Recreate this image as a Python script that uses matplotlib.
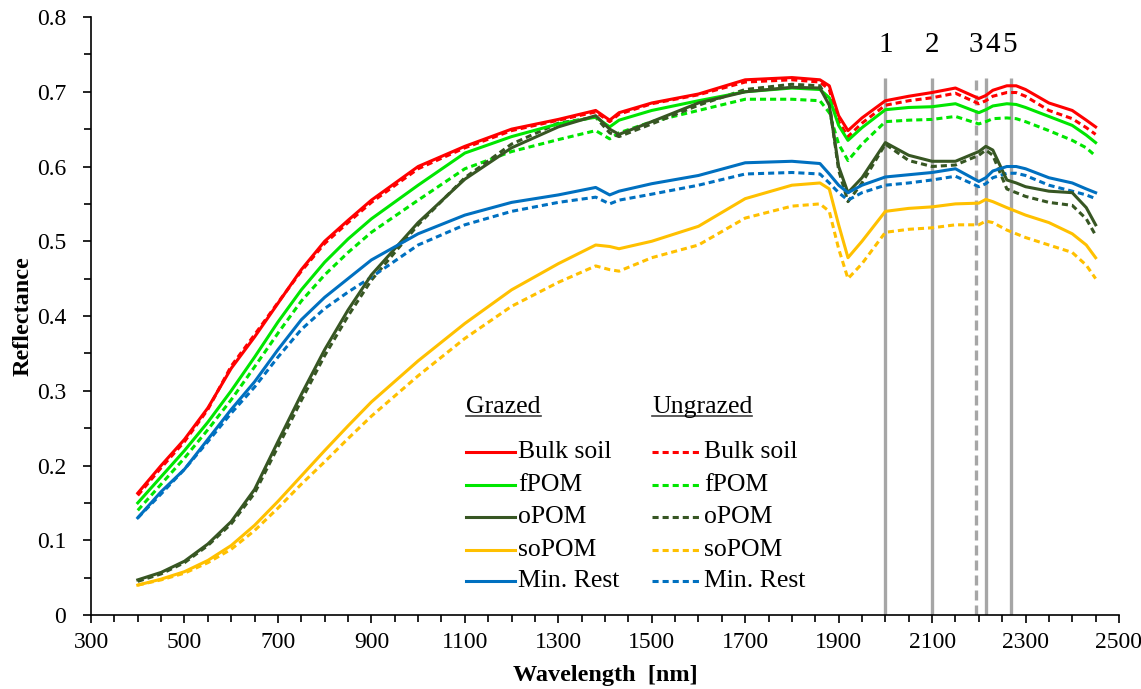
import matplotlib
matplotlib.use("Agg")
import matplotlib.pyplot as plt
from matplotlib.ticker import MultipleLocator

plt.rcParams['font.family'] = ['Liberation Serif', 'DejaVu Serif']

# wavelength grid (nm) shared by all spectra
wavelength = [400, 450, 500, 550, 600, 650, 700, 750, 800, 850, 900, 1000, 1100, 1200,
              1300, 1380, 1410, 1430, 1500, 1600, 1700, 1800, 1860, 1880, 1900, 1920,
              1950, 2000, 2050, 2100, 2150, 2200, 2215, 2230, 2260, 2280, 2300, 2350,
              2400, 2430, 2450]

bulk_grazed = [.163, .200, .235, .277, .330, .372, .417, .462, .500, .528, .555, .600, .627, .650,
               .663, .675, .662, .672, .685, .697, .716, .719, .716, .708, .668, .648,
               .665, .688, .694, .699, .705, .691, .695, .702, .708, .708, .703, .685,
               .675, .662, .653]
bulk_ungrazed = [.160, .197, .232, .275, .333, .375, .418, .460, .497, .525, .552, .597, .625, .648,
                 .662, .673, .660, .670, .684, .696, .713, .716, .713, .703, .660, .640,
                 .658, .682, .688, .692, .698, .684, .688, .694, .699, .699, .694, .675,
                 .664, .652, .643]
fpom_grazed = [.150, .185, .220, .258, .300, .345, .392, .435, .472, .503, .530, .575, .618, .640,
               .657, .666, .653, .662, .675, .688, .700, .705, .703, .692, .655, .635,
               .652, .676, .679, .680, .684, .672, .676, .681, .684, .683, .679, .667,
               .655, .642, .632]
fpom_ungrazed = [.140, .175, .210, .248, .288, .332, .377, .420, .455, .485, .512, .555, .597, .620,
                 .636, .648, .637, .645, .660, .675, .690, .690, .688, .672, .630, .608,
                 .630, .660, .662, .663, .667, .657, .660, .664, .665, .664, .660, .648,
                 .635, .625, .614]
opom_grazed = [.047, .057, .072, .095, .125, .168, .232, .295, .355, .408, .455, .525, .583, .625,
               .653, .668, .650, .643, .660, .685, .700, .706, .705, .682, .600, .565,
               .585, .632, .615, .607, .607, .620, .627, .622, .582, .578, .573, .567,
               .565, .545, .522]
opom_ungrazed = [.045, .055, .070, .093, .122, .163, .225, .287, .347, .400, .448, .522, .585, .630,
                 .658, .666, .645, .640, .657, .682, .703, .710, .708, .685, .595, .553,
                 .578, .630, .608, .600, .602, .615, .622, .615, .570, .565, .560, .552,
                 .548, .530, .508]
sopom_grazed = [.040, .048, .058, .073, .093, .120, .152, .186, .220, .253, .285, .340, .390, .435,
                .470, .495, .493, .490, .500, .520, .557, .575, .578, .570, .522, .478,
                .500, .540, .544, .546, .550, .551, .556, .553, .545, .540, .535, .525,
                .510, .495, .478]
sopom_ungrazed = [.040, .047, .056, .070, .088, .113, .143, .175, .205, .236, .266, .320, .370, .413,
                  .445, .467, .462, .460, .478, .495, .531, .547, .550, .540, .490, .450,
                  .470, .512, .516, .518, .522, .522, .527, .525, .515, .510, .505, .495,
                  .485, .468, .450]
minrest_grazed = [.130, .165, .195, .235, .275, .312, .355, .395, .425, .450, .475, .510, .535, .552,
                  .562, .572, .562, .567, .577, .588, .605, .607, .604, .590, .575, .565,
                  .575, .586, .589, .592, .597, .580, .585, .594, .600, .600, .597, .585,
                  .578, .570, .565]
minrest_ungrazed = [.130, .162, .195, .232, .270, .305, .345, .382, .410, .432, .452, .495, .522, .540,
                    .552, .559, .550, .555, .563, .575, .590, .592, .590, .578, .565, .555,
                    .565, .575, .578, .582, .587, .573, .577, .585, .591, .591, .588, .575,
                    .567, .562, .557]

fractions = ['Bulk soil', 'fPOM', 'oPOM', 'soPOM', 'Min. Rest']
colors = ['#FF0000', '#00E600', '#375623', '#FFC000', '#0070C0']
grazed = [bulk_grazed, fpom_grazed, opom_grazed, sopom_grazed, minrest_grazed]
ungrazed = [bulk_ungrazed, fpom_ungrazed, opom_ungrazed, sopom_ungrazed, minrest_ungrazed]

# absorption band markers
band_wl = [2000, 2100, 2195, 2215, 2268]
band_dashed = [False, False, True, False, False]
band_labels = ['1', '2', '3', '4', '5']
band_label_x = [2000, 2100, 2194, 2230, 2265]

x_ticks = list(range(300, 2501, 200))
y_ticks = [0, 0.1, 0.2, 0.3, 0.4, 0.5, 0.6, 0.7, 0.8]
y_tick_labels = ['0', '0.1', '0.2', '0.3', '0.4', '0.5', '0.6', '0.7', '0.8']

DASH = (0, (2, 1.3))


def main():
    fig = plt.figure(figsize=(11.41, 6.89), dpi=100)
    ax = fig.add_axes([0.0798, 0.1074, 0.9009, 0.8679])

    for w, dashed in zip(band_wl, band_dashed):
        ax.vlines(w, 0, 0.718, colors='#A6A6A6', linewidth=2.4,
                  linestyles=(0, (3, 1.5)) if dashed else '-', zorder=1)
    for lab, x in zip(band_labels, band_label_x):
        ax.text(x, 0.762, lab, fontsize=21, ha='center', va='center')

    for name, col, g, u in zip(fractions, colors, grazed, ungrazed):
        ax.plot(wavelength, g, color=col, linewidth=2.2, zorder=3)
        ax.plot(wavelength, u, color=col, linewidth=2.2, linestyle=DASH, zorder=2)

    ax.set_xlim(300, 2500)
    ax.set_ylim(0, 0.8)
    ax.set_xticks(x_ticks)
    ax.xaxis.set_minor_locator(MultipleLocator(50))
    ax.set_yticks(y_ticks)
    ax.set_yticklabels(y_tick_labels)
    ax.yaxis.set_minor_locator(MultipleLocator(0.05))
    ax.tick_params(which='both', direction='out', labelsize=17, width=1.2)
    ax.tick_params(which='major', length=6)
    ax.tick_params(which='minor', length=5)
    ax.tick_params(axis='x', pad=6)
    ax.tick_params(axis='y', pad=12)
    for s in ['top', 'right']:
        ax.spines[s].set_visible(False)
    for s in ['left', 'bottom']:
        ax.spines[s].set_linewidth(1.2)

    ax.set_xlabel('Wavelength  [nm]', fontsize=17.5, fontweight='bold', labelpad=9)
    ax.set_ylabel('Reflectance', fontsize=17.5, fontweight='bold', labelpad=2)

    # hand-built two-column legend
    col_x = [0.3648, 0.5457]
    handle_w = 0.048
    row_y = [0.2726, 0.2174, 0.1639, 0.1087, 0.0569]
    headers = ['Grazed', 'Ungrazed']
    styles = ['-', DASH]
    fig.canvas.draw()
    renderer = fig.canvas.get_renderer()
    for cx, head, ls in zip(col_x, headers, styles):
        t = ax.text(cx, 0.348, head, fontsize=18.5, transform=ax.transAxes,
                    ha='left', va='center')
        bb = t.get_window_extent(renderer).transformed(ax.transAxes.inverted())
        ax.plot([bb.x0, bb.x1], [bb.y0 + 0.004, bb.y0 + 0.004], color='#404040',
                linewidth=1.2, transform=ax.transAxes)
        for name, col, y in zip(fractions, colors, row_y):
            ax.plot([cx, cx + handle_w], [y, y], color=col, linewidth=2.2,
                    linestyle=ls, transform=ax.transAxes)
            ax.text(cx + handle_w + 0.003, y, name, fontsize=18.5,
                    transform=ax.transAxes, ha='left', va='center')

    fig.savefig('out.png', dpi=100)


if __name__ == '__main__':
    main()
